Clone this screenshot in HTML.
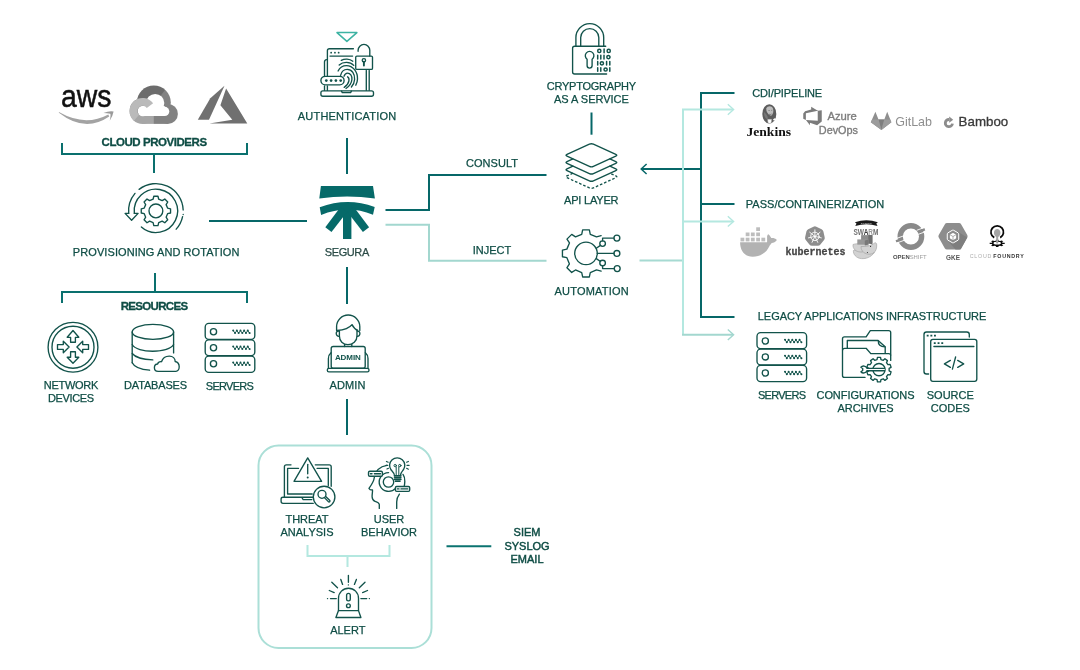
<!DOCTYPE html>
<html lang="en">
<head>
<meta charset="utf-8">
<title>Segura architecture</title>
<style>
html,body{margin:0;padding:0;background:#fff;}
body{width:1080px;height:670px;overflow:hidden;position:relative;font-family:"Liberation Sans",sans-serif;}
svg{position:absolute;left:0;top:0;display:block;will-change:transform}
text{font-family:"Liberation Sans",sans-serif;font-size:11px;fill:#0f4d45;text-anchor:middle}
.b{font-weight:bold;font-size:11.5px;stroke-width:.3px}
.l{text-anchor:start}
.dk{stroke:#066768;stroke-width:2;fill:none}
.lt{stroke:#b4e8e0;stroke-width:2;fill:none}
.ic{stroke:#12534b;stroke-width:1.35;fill:none;stroke-linecap:round;stroke-linejoin:round}
</style>
</head>
<body>
<svg width="1080" height="670" viewBox="0 0 1080 670">
<!-- LINES -->
<g id="lines">
<!-- cloud providers bracket -->
<path class="dk" style="stroke:#0a706e" d="M62 143V154H247V143M154 154V173"/>
<!-- resources bracket -->
<path class="dk" style="stroke:#0a706e" d="M155 273V292M62 303V292H247V303"/>
<!-- provisioning - segura -->
<path class="dk" d="M209 221H307"/>
<!-- auth - segura - admin - box -->
<path class="dk" d="M347 138V174M347 267V304M347 399V435"/>
<!-- consult -->
<path class="dk" d="M385.5 210H429V175H546.5"/>
<!-- inject -->
<path class="lt" style="stroke:#a3d7cf" d="M385.5 224.8H429V260.8H546.5"/>
<!-- crypto - api -->
<path class="dk" d="M591.5 112.5V134.7"/>
<!-- right dark tree -->
<path class="dk" d="M734.5 93H701V317H734.5M701 204H734.5M701 169H641.5"/>
<path class="dk" style="stroke-width:1.5" d="M646.6 164L641.2 169L646.6 174"/>
<!-- right light tree -->
<path class="lt" style="stroke:#a6dad2" d="M639.5 260.6H683"/>
<path class="lt" d="M733 109.5H683V334.8M683 221.4H733"/>
<path class="lt" style="stroke:#a3d7cf" d="M682 334.8H733"/>
<path class="lt" style="stroke-width:1.4" d="M727.8 104.3L733.6 109.5L727.8 114.7M727.8 216.2L733.6 221.4L727.8 226.6"/>
<path class="lt" style="stroke-width:1.4;stroke:#a3d7cf" d="M727.8 329.6L733.6 334.8L727.8 340"/>
<!-- box -->
<rect class="lt" style="stroke:#abdfd7" x="258.5" y="445.5" width="173" height="202.5" rx="20" ry="20"/>
<path class="lt" d="M307.5 545V556H389.5V545M347.5 556V567"/>
<!-- siem -->
<path class="dk" style="stroke:#0b7370" d="M446.5 546.2H491.3"/>
</g>

<!-- TEXT -->
<g id="labels" style="stroke:#0f4d45;stroke-width:.25px">
<text class="b" x="154.3" y="146" textLength="105.5">CLOUD PROVIDERS</text>
<text x="156.1" y="256" textLength="166.5">PROVISIONING AND ROTATION</text>
<text class="b" x="154.4" y="310" textLength="67.5">RESOURCES</text>
<text x="71" y="389" textLength="54.5">NETWORK</text>
<text x="71" y="402" textLength="46">DEVICES</text>
<text x="155.6" y="389" textLength="63">DATABASES</text>
<text x="229.8" y="389.5" textLength="48">SERVERS</text>
<text x="347" y="120" textLength="98.5">AUTHENTICATION</text>
<text x="347" y="256" textLength="44.5" style="fill:#3d4a48">SEGURA</text>
<text x="347.5" y="388.5" textLength="36">ADMIN</text>
<text x="307" y="522.8">THREAT</text>
<text x="307" y="536.3">ANALYSIS</text>
<text x="389" y="522.8">USER</text>
<text x="389" y="536.3">BEHAVIOR</text>
<text x="347.8" y="634">ALERT</text>
<text x="527" y="536" style="stroke-width:.45px">SIEM</text>
<text x="527" y="549.5" style="stroke-width:.45px">SYSLOG</text>
<text x="527" y="563" style="stroke-width:.45px">EMAIL</text>
<text x="591.4" y="89.7" textLength="89.5">CRYPTOGRAPHY</text>
<text x="591.4" y="103.2">AS A SERVICE</text>
<text x="492" y="166.6" textLength="52">CONSULT</text>
<text x="492" y="254.4" textLength="38.5">INJECT</text>
<text x="591.3" y="203.6" textLength="54.5">API LAYER</text>
<text x="591.6" y="295.3" textLength="74">AUTOMATION</text>
<text class="l" x="752.2" y="96.7" textLength="70">CDI/PIPELINE</text>
<text class="l" x="745.8" y="207.5" textLength="138.5">PASS/CONTAINERIZATION</text>
<text class="l" x="757.8" y="319.7" textLength="228.5">LEGACY APPLICATIONS INFRASTRUCTURE</text>
<text x="782" y="399" textLength="48">SERVERS</text>
<text x="865.5" y="399" textLength="98">CONFIGURATIONS</text>
<text x="865.5" y="412">ARCHIVES</text>
<text x="950.3" y="399">SOURCE</text>
<text x="950.3" y="412">CODES</text>
</g>

<!-- ICONS -->
<g id="icons">
<!-- 01_aws.svg -->
<text x="61" y="106.9" textLength="50.5" lengthAdjust="spacingAndGlyphs" style="font-size:31px;fill:#111;stroke:#111;stroke-width:.5px;text-anchor:start">aws</text><path d="M58.9 112.1Q85 127 108.3 114.4L109.2 116.6Q85 133.2 58.9 112.8Z" fill="#a3a3a3"/><path d="M103.5 112.9Q109 110.6 113.6 111.4Q112.6 116.5 109.7 120.7Q111 115.4 110.3 113.7Q107 113 103.5 112.9Z" fill="#9a9a9a"/>
<!-- 02_gcloud.svg -->
<defs><mask id="gcm" maskUnits="userSpaceOnUse" x="120" y="78" width="70" height="52"><g fill="#fff"><circle cx="142.6" cy="111" r="13"/><circle cx="153.8" cy="102.4" r="17"/><circle cx="167.9" cy="113.9" r="10"/><rect x="142.6" y="111" width="25.3" height="12.9"/></g><g fill="#000"><circle cx="142.9" cy="111" r="5.2"/><circle cx="155.2" cy="103" r="9.1"/><circle cx="164.7" cy="111.4" r="4.6"/><rect x="142.9" y="106" width="21.8" height="10"/></g></mask></defs><g mask="url(#gcm)"><rect x="120" y="78" width="70" height="52" fill="#828282"/><path d="M120 78H169L166.8 87.4L158 99.2L153.8 104H120Z" fill="#6c6c6c"/><path d="M153.8 114V126H128V114Z" fill="#a6a6a6"/></g><path d="M136.51 117.76A9.1 9.1 0 1 1 149.96 105.65" fill="none" stroke="#bababa" stroke-width="7.8"/>
<!-- 03_azure.svg -->
<g fill="#707070"><path d="M224.5 85.8L210.3 98.3L197.8 119.7H209Z"/><path d="M226.1 88.5L220.4 105.2L232.3 119.7L209.4 123.6H247.3Z"/></g>
<!-- 10_segura.svg -->
<g fill="#066a69" stroke="none">
<path d="M320.9 186.1H373L374.9 198.5Q347.2 194.3 319.3 198.5Z"/>
<path d="M319.7 207.3Q347.2 197 374.7 207L373 214.7Q347.2 204 321.1 214.9Z"/>
<rect x="343" y="205" width="8.4" height="34"/>
<path d="M325.3 227.2L331.5 232.1L347 212L340.5 207Z"/>
<path d="M369.1 227.2L362.9 232.1L347.4 212L353.9 207Z"/>
</g>
<!-- 20_prov.svg -->
<g class="ic"><path d="M139.09 189.39A27.3 27.3 0 0 1 183.18 209.95M182.6 216.58A27.3 27.3 0 0 1 176.19 229.17M134.99 193.35A27.3 27.3 0 0 0 128.7 213.28M134.32 213.17A21.7 21.7 0 1 1 141.38 227.03"/><path d="M128.7 213.4H125.1L131.6 220.3L138.1 213.4H134.3"/><path d="M183.2 214.5v0.1"/><path d="M158.7 199.23L157.99 196.25L153.81 196.25L153.1 199.23L149.63 200.67L147.01 199.06L144.06 202.01L145.67 204.63L144.23 208.1L141.25 208.81L141.25 212.99L144.23 213.7L145.67 217.17L144.06 219.79L147.01 222.74L149.63 221.13L153.1 222.57L153.81 225.55L157.99 225.55L158.7 222.57L162.17 221.13L164.79 222.74L167.74 219.79L166.13 217.17L167.57 213.7L170.55 212.99L170.55 208.81L167.57 208.1L166.13 204.63L167.74 202.01L164.79 199.06L162.17 200.67Z"/><circle cx="155.9" cy="210.9" r="6.9"/></g>
<!-- 30_net.svg -->
<g class="ic"><circle cx="73" cy="347.2" r="24.9"/><circle cx="73" cy="347.2" r="21"/><path d="M73 330.5L78.8 337.3H75.4V342.2H70.6V337.3H67.2Z"/><path d="M73 363.3L78.8 357.2H75.4V351.7H70.6V357.2H67.2Z"/><path d="M69.1 347L63.3 341.2V344.6H57.5V349.4H63.3V352.8Z"/><path d="M76.9 347L82.7 341.2V344.6H88.5V349.4H82.7V352.8Z"/></g>
<!-- 31_db.svg -->
<g class="ic"><ellipse cx="152.9" cy="331.9" rx="20.7" ry="7.5"/><path d="M132.2 331.9V362.8M173.6 331.9V352.9"/><path d="M132.2 344.5C137 353.5 168 353.5 173.6 344.5"/><path d="M132.2 353.5C135 357 142 359.5 152.8 359.9"/><path d="M132.2 362.8C134 366.5 140 369.5 149.6 370.2"/><path d="M158.1 371.3C155.5 371.3 154.4 369.5 154.4 367.7C154.4 365.5 156 364.1 157.6 364C158 362.5 159.5 361.5 161.5 361.7C162.5 358.5 165.5 356.1 169.3 356.1C172.8 356.1 175.2 358.5 175.2 361.5C177.5 362 179.2 364 179.2 366.8C179.2 369.5 177.5 371.3 176 371.3Z"/></g>
<!-- 32_srv.svg -->
<g class="ic" transform="translate(0 0)"><rect x="205.2" y="323.4" width="49.6" height="16" rx="3.6"/><circle cx="213.5" cy="331.8" r="3.1"/><path d="M233.2 330.6L235.02 333.1L236.84 330.6L238.66 333.1L240.48 330.6L242.3 333.1L244.12 330.6L245.94 333.1L247.76 330.6L249.58 333.1" stroke-width="0.9"/><path d="M233.2 330.6 H248" stroke-width="2" stroke-dasharray="0.01 3.63"/><path d="M235.02 333.1 H250" stroke-width="2" stroke-dasharray="0.01 3.63"/><rect x="205.2" y="339.9" width="49.6" height="15.7" rx="3.6"/><circle cx="213.5" cy="347.7" r="3.1"/><path d="M233.2 346.5L235.02 349L236.84 346.5L238.66 349L240.48 346.5L242.3 349L244.12 346.5L245.94 349L247.76 346.5L249.58 349" stroke-width="0.9"/><path d="M233.2 346.5 H248" stroke-width="2" stroke-dasharray="0.01 3.63"/><path d="M235.02 349 H250" stroke-width="2" stroke-dasharray="0.01 3.63"/><rect x="205.2" y="356.1" width="49.6" height="16.3" rx="3.6"/><circle cx="213.5" cy="363.8" r="3.1"/><path d="M233.2 362.6L235.02 365.1L236.84 362.6L238.66 365.1L240.48 362.6L242.3 365.1L244.12 362.6L245.94 365.1L247.76 362.6L249.58 365.1" stroke-width="0.9"/><path d="M233.2 362.6 H248" stroke-width="2" stroke-dasharray="0.01 3.63"/><path d="M235.02 365.1 H250" stroke-width="2" stroke-dasharray="0.01 3.63"/></g>
<!-- 39_auth.svg -->
<path d="M337 32.6H356.9L346.9 41.4Z" fill="none" stroke="#3db3a3" stroke-width="1.5" stroke-linejoin="round"/><g class="ic"><rect x="320.9" y="90.8" width="52.6" height="5.4" rx="2"/><path d="M341.5 91.2L342.3 92.6H350.6L351.4 91.2"/><path d="M353.4 48.7H329.4Q327.4 48.7 327.4 50.7V75.6M327.4 86V90.4"/><path d="M330 56.1H352.6"/><path d="M331.1 52.7H331.2M334.9 52.7H335M338.6 52.7H338.7" stroke-width="1.7"/><path d="M326.6 59.6Q324.5 59.8 324.5 62V75.6M324.5 86V90.3"/><path d="M366.3 70.4V90.3M369.2 70.4V90.3"/><rect x="320.9" y="76.3" width="23.2" height="8.6" rx="4.3"/></g><g fill="#12534b"><circle cx="326.3" cy="80.6" r="1.35"/><circle cx="331.1" cy="80.6" r="1.35"/><circle cx="335.9" cy="80.6" r="1.35"/><circle cx="340.7" cy="80.6" r="1.35"/></g><g class="ic"><rect x="355.7" y="56.1" width="16.8" height="13.3" rx="1.2"/><path d="M358.1 51.2V50.3A5.85 5.85 0 0 1 369.8 50.3V56.1"/><path d="M363.9 61.8V65.6" stroke-width="1.9"/><circle cx="363.9" cy="60.3" r="1.7" stroke-width="1.3"/><path d="M341.3 60.4C344.5 58.6 349.5 58.6 352.8 61.2"/><path d="M339.2 65.1C343 61.5 350 61.5 353.7 65.4"/><path d="M338.1 71C340 67 343.5 65.6 346.5 65.6C353 65.6 357.8 72 357.5 79C357.4 81.5 356.8 83.5 355.8 85.2"/><path d="M340.6 75.4C341.5 71.5 344 69.4 347.2 69.4C352 69.4 355 74 354.6 79.5C354.4 82.5 353.2 85 351.4 87"/><path d="M344 76.2C344.8 74 346 73.1 347.5 73.1C350.3 73.1 352.2 76 351.9 79.5C351.5 83.5 349 86.5 346 88.5"/><path d="M347.6 76.8C348.8 77.5 349.2 79 348.9 80.8C348.4 83.5 346.5 85.8 344.2 87.4"/></g>
<!-- 40_crypto.svg -->
<g class="ic"><path d="M605.7 46.2H574.6Q572.6 46.2 572.6 48.2V72Q572.6 74 574.6 74H606.6"/><path d="M575.9 46.2V37.5A13.9 13.9 0 0 1 603.7 37.5V46.2"/><path d="M580.7 46.2V37.6A9.05 9.05 0 0 1 598.8 37.6V46.2"/><path d="M587.1 59.2A4.3 4.3 0 1 1 592.1 59.2V65.6A2.5 2.5 0 0 1 587.1 65.6Z"/><path d="M597.7 50.9a1.6 1.6 0 1 0 3.2 0a1.6 1.6 0 1 0 -3.2 0M604.1 49.1V52.7M607.1 50.9a1.6 1.6 0 1 0 3.2 0a1.6 1.6 0 1 0 -3.2 0M597.7 55.3V58.9M600.8 55.3V58.9M604 55.3V58.9M606.8 57.1a1.6 1.6 0 1 0 3.2 0a1.6 1.6 0 1 0 -3.2 0M597.7 61.5V65.1M600.3 63.3a1.6 1.6 0 1 0 3.2 0a1.6 1.6 0 1 0 -3.2 0M606.6 61.5V65.1M609.8 61.5V65.1M597.7 67.7V71.3M600.8 67.7V71.3M604 69.5a1.6 1.6 0 1 0 3.2 0a1.6 1.6 0 1 0 -3.2 0M609.8 67.7V71.3" stroke-width="1.5"/></g>
<!-- 41_api.svg -->
<g class="ic" stroke-linejoin="round"><path d="M567 156.21Q565 155.3 567 154.39L589.4 144.21Q591.4 143.3 593.4 144.21L615.8 154.39Q617.8 155.3 615.8 156.21L593.4 166.39Q591.4 167.3 589.4 166.39Z"/><path d="M572.9 158.91L567 161.59Q565 162.5 567 163.41L589.4 173.59Q591.4 174.5 593.4 173.59L615.8 163.41Q617.8 162.5 615.8 161.59L609.9 158.91"/><path d="M572.9 166.11L567 168.79Q565 169.7 567 170.61L589.4 180.79Q591.4 181.7 593.4 180.79L615.8 170.61Q617.8 169.7 615.8 168.79L609.9 166.11"/><path d="M572.9 173.21L567 175.89Q565 176.8 567 177.71L589.4 187.89Q591.4 188.8 593.4 187.89L615.8 177.71Q617.8 176.8 615.8 175.89L609.9 173.21" stroke-dasharray="2.6 1.9" stroke-linecap="butt"/></g>
<!-- 42_auto.svg -->
<g class="ic"><path d="M601.13 235.68L596.5 236.85L590.28 234.27L589.35 229.84L582.65 229.84L581.72 234.27L575.5 236.85L571.71 234.37L566.97 239.11L569.45 242.9L566.87 249.12L562.44 250.05L562.44 256.75L566.87 257.68L569.45 263.9L566.97 267.69L571.71 272.43L575.5 269.95L581.72 272.53L582.65 276.96L589.35 276.96L590.28 272.53L596.5 269.95L601.13 271.12"/><circle cx="586" cy="253.4" r="11.3"/><circle cx="616.9" cy="238.1" r="2.95"/><circle cx="616.9" cy="253.4" r="2.95"/><circle cx="617.2" cy="268.6" r="2.95"/><circle cx="602.6" cy="243.6" r="2.8"/><circle cx="602.6" cy="263" r="2.8"/><path d="M597.3 253.4H613.9M613.9 238.1H602.6V240.8M596.3 248.2L600.1 245.6M614.2 268.6H602.6V265.8M596.3 258.6L600.1 261.2"/></g>
<!-- 50_admin.svg -->
<g class="ic"><path d="M336.6 330.5V326.6A11.6 11.6 0 0 1 359.8 326.6V330.5"/><path d="M339.4 330.8V336C339.4 341 343 344.6 347.9 344.6C352.8 344.6 357 341 357 336V330"/><path d="M338.6 331.2C335.5 330.5 335.2 336.5 339.2 336.3M357.4 331.2C360.6 330.5 360.9 336.5 357.2 336.3"/><path d="M337 330.5C343 330 349 328.5 352 324.6C353.5 327.5 355.5 329.5 357.6 330.3"/><path d="M344.6 344.3V346.5M351.8 344.3V346.5"/><rect x="331.2" y="346.5" width="34" height="21.7" rx="2"/><rect x="327.3" y="368.3" width="41.7" height="3.5" rx="1.6"/><path d="M331 352.8C329 354.5 328.4 356.5 328.4 358.5V367.8M365.4 352.8C367.4 354.5 368 356.5 368 358.5V367.8"/></g><text x="347.9" y="359.8" style="font-size:8px;font-weight:bold;fill:#12534b" textLength="26">ADMIN</text>
<!-- 51_threat.svg -->
<g class="ic"><path d="M291 464.8H286.4Q284.4 464.8 284.4 466.8V497M315.3 464.8H329.2Q331.2 464.8 331.2 466.8V486.3"/><path d="M298.5 468.4H287.6V494H312.2M317.1 468.4H328.3V485.4"/><path d="M313 497.2H283Q281.1 497.2 281.1 499V501.3Q281.1 503.3 283 503.3H313.3"/><path d="M302.3 498.3L303.2 499.6H311.8"/><path d="M307.7 457.9L321.6 481.3H294Z"/><path d="M307.7 464.3V473.7"/><path d="M307.7 477.5V477.6" stroke-width="2"/><circle cx="324.1" cy="497" r="10.8"/><circle cx="322" cy="494.3" r="4"/><path d="M324.4 497.6L328.3 501.6C329.3 502.6 330.6 501.3 329.6 500.3L325.7 496.4"/></g>
<!-- 52_user.svg -->
<g class="ic"><path d="M386.9 465.4C380 466.5 375.5 471 374.3 477.5C374 481 372.5 483.5 369 488.4C369.5 489.6 371 490 372.5 490C372.7 492 372 494 372.1 496.8C372.2 499 373 500.6 375 501.3C377 502 379 502.3 379.3 504.5V508.4"/><path d="M399.4 494.1C397.5 496.5 396.7 499 396.7 502.1V508.4"/><path d="M403 474.4C404.5 476.5 405 479 404.8 481.5C404.7 483.5 404.5 485 404.3 486"/><path d="M388.6 472.6A9.4 9.4 0 1 0 395.5 488.4"/><circle cx="388.5" cy="482" r="5.2"/><path d="M394.5 475.7C394.5 473 392.5 471.5 391 469.8A7.6 7.6 0 1 1 403.4 469.8C402 471.5 400.4 473 400.4 475.7"/><path d="M394.5 475.9H400.9M394.5 477.7H400.9M394.5 479.5H400.9M395.4 481.2H400" stroke-width="1.6"/><path d="M396.2 475V466.8M398.8 475V466.8" stroke-width="1"/><circle cx="395.2" cy="465.6" r="1.2" stroke-width="1"/><circle cx="399.8" cy="465.6" r="1.2" stroke-width="1"/><path d="M386.4 461.4L388.2 462.3M386 465.4H387.8M386.9 469L388.5 468.3M406.6 462.3L408.4 461.4M407 465.4H409.1M406.6 468.3L408.4 469.2" stroke-width="1.1"/><rect x="368.5" y="471.2" width="13.9" height="5" rx="1.3" fill="#fff"/><path d="M370.4 473.7H372M374.4 473.7H380.5"/><rect x="395.4" y="486.5" width="14.3" height="4.9" rx="1.3" fill="#fff"/><path d="M397.3 488.9H399M401 488.9H407.8"/></g>
<!-- 53_alert.svg -->
<g class="ic"><path d="M338.5 610.6V598.2A10 10 0 0 1 358.5 598.2V610.6"/><path d="M338.5 610.6H358.5L360.9 617.5H335.9Z"/><rect x="346.6" y="593.4" width="3.7" height="7.4" rx="1.85"/><circle cx="348.4" cy="605.7" r="1.9"/><path d="M348.4 575.3V582.3M348.4 584.8V584.9M340.8 579.4L342.6 584.4M356.4 579.4L354.4 584.4M331.8 582.3L337.5 587.7M365 582.3L359.3 587.7M329.3 590.5L334.2 592.6M367.5 590.5L362.6 592.6M330.5 598.6H336.3M327.5 598.6H327.6M360.9 598.6H366.7M369.3 598.6H369.4"/></g>
<!-- 60_srv2.svg -->
<g class="ic" transform="translate(551.8 9.2)"><rect x="205.2" y="323.4" width="49.6" height="16" rx="3.6"/><circle cx="213.5" cy="331.8" r="3.1"/><path d="M233.2 330.6L235.02 333.1L236.84 330.6L238.66 333.1L240.48 330.6L242.3 333.1L244.12 330.6L245.94 333.1L247.76 330.6L249.58 333.1" stroke-width="0.9"/><path d="M233.2 330.6 H248" stroke-width="2" stroke-dasharray="0.01 3.63"/><path d="M235.02 333.1 H250" stroke-width="2" stroke-dasharray="0.01 3.63"/><rect x="205.2" y="339.9" width="49.6" height="15.7" rx="3.6"/><circle cx="213.5" cy="347.7" r="3.1"/><path d="M233.2 346.5L235.02 349L236.84 346.5L238.66 349L240.48 346.5L242.3 349L244.12 346.5L245.94 349L247.76 346.5L249.58 349" stroke-width="0.9"/><path d="M233.2 346.5 H248" stroke-width="2" stroke-dasharray="0.01 3.63"/><path d="M235.02 349 H250" stroke-width="2" stroke-dasharray="0.01 3.63"/><rect x="205.2" y="356.1" width="49.6" height="16.3" rx="3.6"/><circle cx="213.5" cy="363.8" r="3.1"/><path d="M233.2 362.6L235.02 365.1L236.84 362.6L238.66 365.1L240.48 362.6L242.3 365.1L244.12 362.6L245.94 365.1L247.76 362.6L249.58 365.1" stroke-width="0.9"/><path d="M233.2 362.6 H248" stroke-width="2" stroke-dasharray="0.01 3.63"/><path d="M235.02 365.1 H250" stroke-width="2" stroke-dasharray="0.01 3.63"/></g>
<!-- 61_config.svg -->
<g class="ic"><path d="M865 377.4H844.5Q842.5 377.4 842.5 375.4V338.8Q842.5 336.8 844.5 336.8H866.1L870.3 330.6H888.7Q890.7 330.6 890.7 332.6V360.4"/><path d="M847.3 348V340.5H878.1L885.2 346.8V353.1"/><path d="M878.3 340.8C878 344.5 880.5 346.8 884.8 346.9"/><path d="M842.6 350Q842.8 348.3 844.6 348.3H866.1L870.8 353.6H888.7Q890.5 353.6 890.7 355.2"/><path d="M880.97 359.59L880.54 357.4L877.46 357.4L877.03 359.59L874.72 360.34L873.07 358.82L870.58 360.63L871.52 362.66L870.09 364.63L867.87 364.36L866.92 367.3L868.87 368.39L868.87 370.81L866.92 371.9L867.87 374.84L870.09 374.57L871.52 376.54L870.58 378.57L873.07 380.38L874.72 378.86L877.03 379.61L877.46 381.8L880.54 381.8L880.97 379.61L883.28 378.86L884.93 380.38L887.42 378.57L886.48 376.54L887.91 374.57L890.13 374.84L891.08 371.9L889.13 370.81L889.13 368.39L891.08 367.3L890.13 364.36L887.91 364.63L886.48 362.66L887.42 360.63L884.93 358.82L883.28 360.34Z" fill="#fff"/><circle cx="879" cy="369.6" r="6.1"/><path d="M884.6 368.3H866.9A3.5 3.5 0 0 0 860.9 367.3L862.7 368.5V370.5L860.9 371.7A3.5 3.5 0 0 0 866.9 370.7H884.6" fill="#fff"/></g>
<!-- 62_source.svg -->
<g class="ic"><path d="M969.3 337.1V334.5Q969.3 332 966.8 332H926.5Q924 332 924 334.5V371.5Q924 374 926.5 374H928.6"/><rect x="930.7" y="339.4" width="46.1" height="41.9" rx="2.2"/><path d="M933.9 346.5H973.9"/><path d="M950.4 360.4L944.4 363.8L950.4 367.4M955.6 357L952.4 369.1M957.7 360.4L963.7 363.8L957.7 367.4"/><path d="M927.6 335.7H927.7M931.3 335.7H931.4M934.9 335.7H935M934.7 343.1H934.8M938.5 343.1H938.6M942.2 343.1H942.3" stroke-width="1.8" stroke-linecap="square"/></g>
<!-- 70_jenkins.svg -->
<g><ellipse cx="769.3" cy="113.9" rx="7" ry="9.6" fill="#5c5c5c"/><path d="M766.3 108.5C767.2 105.8 771.8 105.4 773 108.4C773.8 110.8 773.4 113.8 771.2 115.8C768.8 115.2 766 112.3 766.3 108.5Z" fill="#bdbdbd"/><path d="M764.2 112C763.6 115 765 118.5 767.5 119.5C768.5 117.5 767.5 115 764.2 112Z" fill="#777"/><path d="M767.6 119.3H771.7L771.4 122.6Q769.6 124.4 767.9 122.6Z" fill="#fff" stroke="#999" stroke-width="0.4"/><path d="M773 119.2L775.2 118.1L775.8 119.8L773.6 120.6Z" fill="#fff"/><path d="M768.5 110.5h1.2M771.2 110.3h1M769 114.2q1.4 .8 2.6 -.2" stroke="#555" stroke-width="0.6" fill="none"/></g><text x="746.4" y="135.6" textLength="44.8" lengthAdjust="spacingAndGlyphs" style="font-family:'Liberation Serif',serif;font-weight:bold;font-size:11.6px;fill:#111;text-anchor:start">Jenkins</text>
<!-- 71_azdevops.svg -->
<path transform="translate(802.1 105.6) scale(1.156)" d="M17 4v9.74l-4 3.28-6.2-2.26V17l-3.51-4.59 10.23.8V4.44zm-3.41.49L7.850 1v2.29L2.580 4.840 1 6.870v4.610l2.260 1V6.570z" fill="#7b7b7b"/><text x="827.4" y="120.3" textLength="29.4" lengthAdjust="spacingAndGlyphs" style="font-size:11.3px;fill:#7d7d7d;stroke:#7d7d7d;stroke-width:.35px;text-anchor:start">Azure</text><text x="818.8" y="134.1" textLength="39.2" lengthAdjust="spacingAndGlyphs" style="font-size:11.3px;fill:#7d7d7d;stroke:#7d7d7d;stroke-width:.35px;text-anchor:start">DevOps</text>
<!-- 72_gitlab.svg -->
<path d="M881.4 129.9L870.8 122.2L875.4 111.8L878.5 119.5H884.3L887.2 111.8L891.4 122.2Z" fill="#8f8f8f"/><path d="M881.4 129.9L878.5 119.5H884.3Z" fill="#7e7e7e"/><path d="M881.4 129.9L870.8 122.2L872.2 119.5H878.5Z M881.4 129.9L891.4 122.2L890.2 119.5H884.3Z" fill="#9c9c9c"/><text x="895.2" y="125.7" textLength="36.8" lengthAdjust="spacingAndGlyphs" style="font-size:12.6px;fill:#8e8e8e;text-anchor:start">GitLab</text>
<!-- 73_bamboo.svg -->
<g fill="none" stroke="#8c8c8c"><path d="M949.03 119.5A3.6 3.6 0 1 0 952.46 123.6" stroke-width="2.8"/></g><path d="M949.2 116.4L953.2 119.7L949.2 122.7Z" fill="#8c8c8c"/><text x="958.6" y="126.4" textLength="49.6" lengthAdjust="spacingAndGlyphs" style="font-size:12.4px;fill:#3a3a3a;stroke:#3a3a3a;stroke-width:.3px;text-anchor:start">Bamboo</text>
<!-- 80_docker.svg -->
<g fill="#b2b2b2"><path d="M740.1 242.3H767.1V236.3C767.4 235 768 234.3 768.4 234.2C769.6 235.2 770.6 236.6 771.2 238.1C773 237.8 775.4 238.4 776.9 239.9C775.6 241.8 773.6 242.8 771.7 242.9C770.6 244.2 770 245 769.5 245.9C766.5 252.5 760.5 256.7 752.7 256.7C744.8 256.7 740.1 251 740.1 242.3Z"/></g><g fill="#bdbdbd"><rect x="740.5" y="237.7" width="3.8" height="3.7"/><rect x="745.7" y="237.7" width="3.8" height="3.7"/><rect x="750.9" y="237.7" width="3.8" height="3.7"/><rect x="756.2" y="237.7" width="3.8" height="3.7"/><rect x="761.4" y="237.7" width="3.8" height="3.7"/><rect x="745.7" y="232.5" width="3.8" height="3.7"/><rect x="750.9" y="232.5" width="3.8" height="3.7"/><rect x="756.2" y="232.5" width="3.8" height="3.7"/><rect x="756.2" y="227.3" width="3.8" height="3.7"/></g>
<!-- 81_k8s.svg -->
<path d="M816.34 226.69Q814.9 226 813.46 226.69L808.21 229.22Q806.77 229.92 806.41 231.48L805.12 237.15Q804.76 238.71 805.76 239.97L809.39 244.52Q810.39 245.77 811.99 245.77L817.81 245.77Q819.41 245.77 820.41 244.52L824.04 239.97Q825.04 238.71 824.68 237.15L823.39 231.48Q823.03 229.92 821.59 229.22Z" fill="#8d8d8d"/><g fill="none" stroke="#fff" stroke-width="0.9" stroke-linecap="round"><circle cx="814.9" cy="236.4" r="4.2"/><path d="M814.9 235.2L814.9 229.8M813.96 235.65L809.74 232.28M813.73 236.67L808.47 237.87M814.38 237.48L812.04 242.35M815.42 237.48L817.76 242.35M816.07 236.67L821.33 237.87M815.84 235.65L820.06 232.28"/></g><circle cx="814.9" cy="236.4" r="1.1" fill="#fff"/><text x="785.6" y="255.3" textLength="59.8" lengthAdjust="spacingAndGlyphs" style="font-family:'Liberation Mono',monospace;font-weight:bold;font-size:10.4px;fill:#454545;stroke:#454545;stroke-width:.3px;text-anchor:start">kubernetes</text>
<!-- 82_swarm.svg -->
<g><path d="M854.9 222.2Q866.4 218.2 877.9 222.2L876.3 223.4L877.5 225.9Q866.4 222.4 855.3 225.9L856.5 223.4Z" fill="#1a1a1a"/><text x="866.4" y="224.3" style="font-size:2.2px;font-weight:bold;fill:#cfcfcf;letter-spacing:.25px">DOCKER</text><text x="866" y="235" textLength="25" lengthAdjust="spacingAndGlyphs" style="font-size:8.8px;font-weight:bold;fill:#707070"><tspan>SW</tspan><tspan style="fill:#3a3a3a">A</tspan><tspan style="fill:#9a9a9a">R</tspan><tspan>M</tspan></text><g fill="#d2d2d2" stroke="#9e9e9e" stroke-width="0.6"><path d="M853.4 250.5C853 254 856 258.3 861.5 258.6C866 258.9 870.5 257.5 874.5 252.5C870 249 858 248.5 853.4 250.5Z"/><path d="M853 244.5C852.6 248.5 855.5 251.8 860.5 252C865 252.2 868 250 869 246C865 243.5 857 243 853 244.5Z"/><path d="M861 246.5C861 251.5 865 254.3 869.5 254.2C874.5 254 877.3 250 876.6 243.8C876 242.8 875.4 242.4 874.6 243C872 246 865 246.8 861 246.5Z"/></g><path d="M861.1 235.1H872.4V243.5H861.1Z" fill="#8c8c8c"/><path d="M868.3 235.1H872.4V244.5L868.3 243.2Z" fill="#6f6f6f"/><path d="M857.3 239.4H868.5V244.6H857.3Z" fill="#979797"/><path d="M864.8 240.4L868.6 239.4V244.6L864.8 245.4Z" fill="#787878"/><circle cx="870.6" cy="246.4" r="0.55" fill="#222"/><circle cx="867.4" cy="252.6" r="0.5" fill="#222"/></g>
<!-- 83_openshift.svg -->
<circle cx="910.9" cy="236.5" r="10.75" fill="none" stroke="#8a8a8a" stroke-width="5.3"/><g stroke="#8a8a8a" stroke-width="2.6" fill="none"><path d="M918.5 231.6L924.8 229.2M896 241.4L902.5 239"/></g><g stroke="#fff" stroke-width="0.9" fill="none"><path d="M916.8 230.3L926.5 226.6M917.6 234.6L927.2 231"/><path d="M893.6 239.6L904 235.7M894.4 243.9L905 240"/></g><text x="893" y="258.6" style="font-size:5.9px;text-anchor:start;font-weight:bold;fill:#4a4a4a" textLength="33.7" lengthAdjust="spacingAndGlyphs">OPEN<tspan style="font-weight:normal;fill:#9c9c9c">SHIFT</tspan></text>
<!-- 84_gke.svg -->
<path d="M938.74 237.6Q938 236.3 938.74 235L944.76 224.4Q945.5 223.1 947 223.1L959 223.1Q960.5 223.1 961.24 224.4L967.26 235Q968 236.3 967.26 237.6L961.24 248.2Q960.5 249.5 959 249.5L947 249.5Q945.5 249.5 944.76 248.2Z" fill="#8d8d8d"/><path d="M957.5 231.5L967.3 237.6L960.9 248.9Q960.5 249.5 959.6 249.5H955.5L948.5 241.5Z" fill="#7e7e7e"/><path d="M953.69 230.3Q953 229.9 952.31 230.3L947.98 232.8Q947.28 233.2 947.28 234L947.28 239Q947.28 239.8 947.98 240.2L952.31 242.7Q953 243.1 953.69 242.7L958.02 240.2Q958.72 239.8 958.72 239L958.72 234Q958.72 233.2 958.02 232.8Z" fill="#8d8d8d" stroke="#fff" stroke-width="1"/><path d="M953.26 233.05Q953 232.9 952.74 233.05L950.14 234.55Q949.88 234.7 949.88 235L949.88 238Q949.88 238.3 950.14 238.45L952.74 239.95Q953 240.1 953.26 239.95L955.86 238.45Q956.12 238.3 956.12 238L956.12 235Q956.12 234.7 955.86 234.55Z" fill="#fff"/><path d="M953 236.5V240.1M953 236.5L949.9 234.7M953 236.5L956.1 234.7" stroke="#8d8d8d" stroke-width="0.7" fill="none"/><text x="953" y="259.5" textLength="13.8" lengthAdjust="spacingAndGlyphs" style="font-size:7.3px;font-weight:bold;fill:#555">GKE</text>
<!-- 85_cf.svg -->
<path d="M994.24 237.66A6.3 6.3 0 1 1 1000.16 237.66" fill="none" stroke="#0a0a0a" stroke-width="1.8"/><path d="M998.55 237.97L998.45 235.9L995.95 235.9L995.85 237.97L994.31 238.6L992.78 237.22L991.02 238.98L992.4 240.51L991.77 242.05L989.7 242.15L989.7 244.65L991.77 244.75L992.4 246.29L991.02 247.82L992.78 249.58L994.31 248.2L995.85 248.83L995.95 250.9L998.45 250.9L998.55 248.83L1000.09 248.2L1001.62 249.58L1003.38 247.82L1002 246.29L1002.63 244.75L1004.7 244.65L1004.7 242.15L1002.63 242.05L1002 240.51L1003.38 238.98L1001.62 237.22L1000.09 238.6Z" fill="#0a0a0a" transform="translate(997.2 243.4) scale(1 0.48) translate(-997.2 -243.4)"/><ellipse cx="997.2" cy="243.2" rx="3.7" ry="1.4" fill="#fff"/><path d="M996.2 243.3V237C994.3 236 993.8 233.8 994 232C994.3 229.8 995.7 228.9 997.2 228.9C998.7 228.9 1000.1 229.8 1000.4 232C1000.6 233.8 1000.1 236 998.2 237V243.3Q997.2 243.8 996.2 243.3Z" fill="#a4a4a4"/><text x="969.8" y="257.9" style="font-size:5.3px;text-anchor:start;fill:#adadad" textLength="54" lengthAdjust="spacing">CLOUD<tspan style="font-weight:bold;fill:#333" dx="1.2">FOUNDRY</tspan></text>

</g>
</svg>
</body>
</html>
